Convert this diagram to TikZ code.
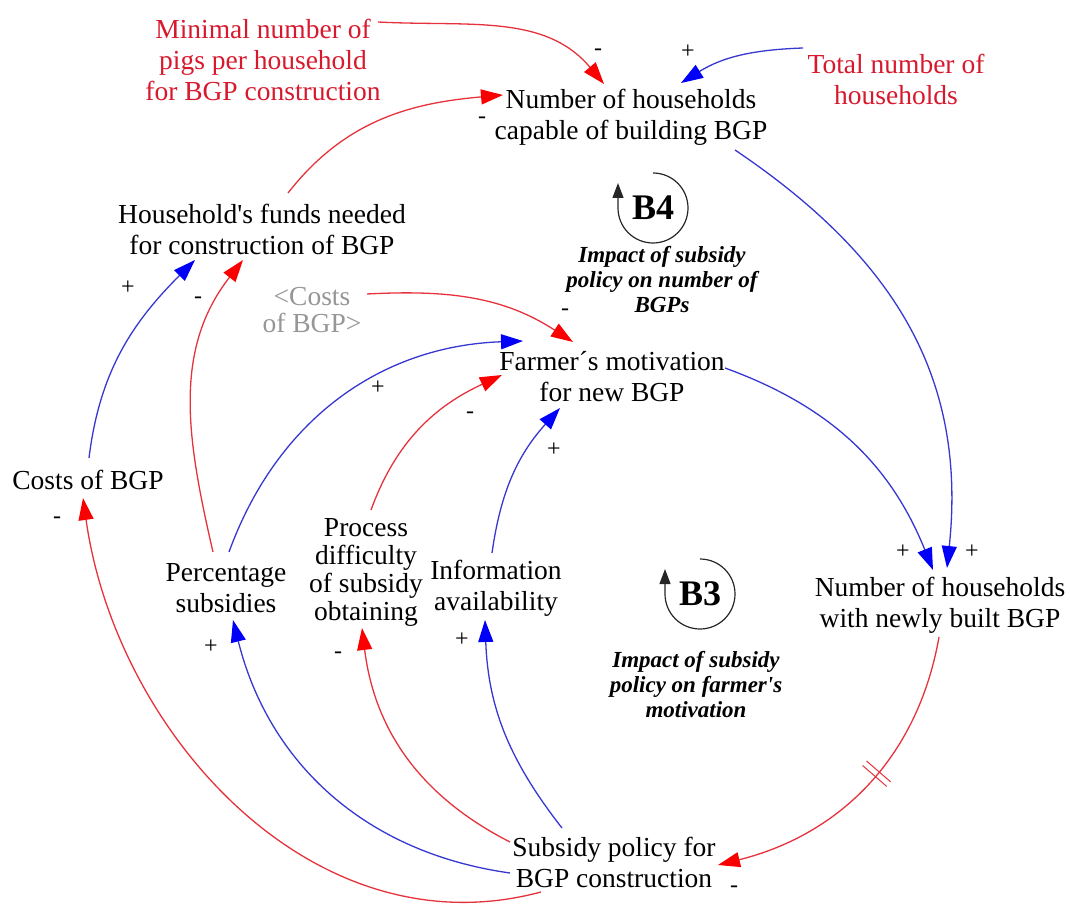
\documentclass[tikz,border=0pt]{standalone}
\usepackage{fontspec}
\setmainfont{Liberation Serif}[Ligatures=TeXOff]
\usetikzlibrary{arrows.meta,decorations.markings}

\definecolor{linkred}{RGB}{230,50,60}
\definecolor{tipred}{RGB}{250,0,0}
\definecolor{linkblue}{RGB}{55,55,210}
\definecolor{tipblue}{RGB}{0,0,250}
\definecolor{textred}{RGB}{215,25,45}
\definecolor{shadowgray}{RGB}{150,150,150}

\tikzset{
  var/.style={align=center, font=\fontsize{27.5}{31}\selectfont, inner sep=0pt},
  exo/.style={var, text=textred},
  shadowvar/.style={var, text=shadowgray, font=\fontsize{27.5}{27}\selectfont},
  neglink/.style={draw=linkred, line width=1.3pt,
    -{Triangle[length=22pt,width=15pt,color=tipred]}},
  poslink/.style={draw=linkblue, line width=1.3pt,
    -{Triangle[length=22pt,width=15pt,color=tipblue]}},
  sign/.style={font=\fontsize{24}{24}\selectfont, inner sep=0pt},
  loopname/.style={font=\fontsize{36}{36}\selectfont\bfseries, inner sep=0pt},
  looplabel/.style={align=center, font=\fontsize{23}{25}\selectfont\bfseries\itshape, inner sep=0pt},
  loopline/.style={draw=black!85, line width=1.2pt, -{Triangle[length=15pt,width=11pt]}},
  delaymark/.style={postaction={decorate}, decoration={markings,
    mark=at position #1 with {\draw[-, linkred, line width=1pt]
      (-3pt,-16pt) -- (-3pt,16pt) (3pt,-16pt) -- (3pt,16pt);}}}
}

\begin{document}
\begin{tikzpicture}[x=1pt,y=1pt]
\useasboundingbox (0,0) rectangle (1070,-909);

% variables
\node[exo] (minpigs) at (263,-60) {Minimal number of\\pigs per household\\for BGP construction};
\node[exo] (total) at (896,-79) {Total number of\\households};
\node[var] (capable) at (631,-117) {Number of households\\capable of building BGP};
\node[var] (funds) at (262,-229) {Household's funds needed\\for construction of BGP};
\node[shadowvar] (costshadow) at (312,-310) {<Costs\\of BGP>};
\node[var] (motivation) at (612,-377) {Farmer´s motivation\\for new BGP};
\node[var] (costs) at (88,-480) {Costs of BGP};
\node[var] (pct) at (226,-588) {Percentage\\subsidies};
\node[var, font=\fontsize{27.5}{28}\selectfont] (process) at (366,-572) {Process\\difficulty\\of subsidy\\obtaining};
\node[var] (info) at (496,-588) {Information\\availability};
\node[var] (newly) at (940,-605) {Number of households\\with newly built BGP};
\node[var] (subsidy) at (614,-862) {Subsidy policy for\\BGP construction};

% loops
\node[loopname] (b4) at (653,-208) {B4};
\draw[loopline] ([shift={(90:35)}]b4.center) arc[start angle=90, end angle=-180, radius=35] -- ++(0,25);
\node[looplabel] (b4label) at (662,-280) {Impact of subsidy\\policy on number of\\BGPs};
\node[loopname] (b3) at (700,-594) {B3};
\draw[loopline] ([shift={(90:35)}]b3.center) arc[start angle=90, end angle=-180, radius=35] -- ++(0,25);
\node[looplabel] (b3label) at (696,-685) {Impact of subsidy\\policy on farmer's\\motivation};

% causal links
\draw[neglink] ([shift={(115,38)}]minpigs.center) to[out=-3,in=130] ([shift={(-27,33)}]capable.center);
\draw[poslink] ([shift={(-93,31)}]total.center) to[out=182,in=32] ([shift={(50,34)}]capable.center);
\draw[neglink] ([shift={(26,36)}]funds.center) to[out=52,in=185] ([shift={(-128,22)}]capable.center);
\draw[poslink] ([shift={(104,-33)}]capable.center) to[out=-34,in=84,looseness=1.05] ([shift={(7,37)}]newly.center);
\draw[poslink] ([shift={(113,9)}]motivation.center) to[out=-20,in=112] ([shift={(-7,35)}]newly.center);
\draw[neglink] ([shift={(55,16)}]costshadow.center) to[out=3,in=147] ([shift={(-39,35)}]motivation.center);
\draw[poslink] ([shift={(1,22)}]costs.center) to[out=83,in=225] ([shift={(-67,-31)}]funds.center);
\draw[neglink] ([shift={(-13,36)}]pct.center) to[out=103,in=232] ([shift={(-19,-31)}]funds.center);
\draw[poslink] ([shift={(3,36)}]pct.center) to[out=70,in=182] ([shift={(-89,36)}]motivation.center);
\draw[neglink] ([shift={(5,62)}]process.center) to[out=70,in=205] ([shift={(-110,2)}]motivation.center);
\draw[poslink] ([shift={(-4,35)}]info.center) to[out=82,in=228] ([shift={(-52,-31)}]motivation.center);
\draw[neglink] ([shift={(-73,-30)}]subsidy.center) to[out=195,in=-82] ([shift={(-5,-18)}]costs.center);
\draw[poslink] ([shift={(-104,-11)}]subsidy.center) to[out=172,in=-76] ([shift={(7,-32)}]pct.center);
\draw[neglink] ([shift={(-104,20)}]subsidy.center) to[out=153,in=-83] ([shift={(-4,-56)}]process.center);
\draw[poslink] ([shift={(-52,34)}]subsidy.center) to[out=128,in=-88] ([shift={(-11,-32)}]info.center);
\draw[neglink, delaymark=0.45] ([shift={(-1,-32)}]newly.center) to[out=-100,in=14] ([shift={(104,-3)}]subsidy.center);

% link polarities
\node[sign] (p1) at (598,-52) {-};
\node[sign] (p2) at (688,-52) {+};
\node[sign] (p3) at (482,-120) {-};
\node[sign] (p4) at (565,-312) {-};
\node[sign] (p5) at (972,-552) {+};
\node[sign] (p6) at (903,-552) {+};
\node[sign] (p7) at (128,-288) {+};
\node[sign] (p8) at (198,-300) {-};
\node[sign] (p9) at (378,-388) {+};
\node[sign] (p10) at (470,-415) {-};
\node[sign] (p11) at (554,-450) {+};
\node[sign] (p12) at (57,-520) {-};
\node[sign] (p13) at (211,-647) {+};
\node[sign] (p14) at (338,-655) {-};
\node[sign] (p15) at (462,-640) {+};
\node[sign] (p16) at (734,-889) {-};
\end{tikzpicture}
\end{document}
